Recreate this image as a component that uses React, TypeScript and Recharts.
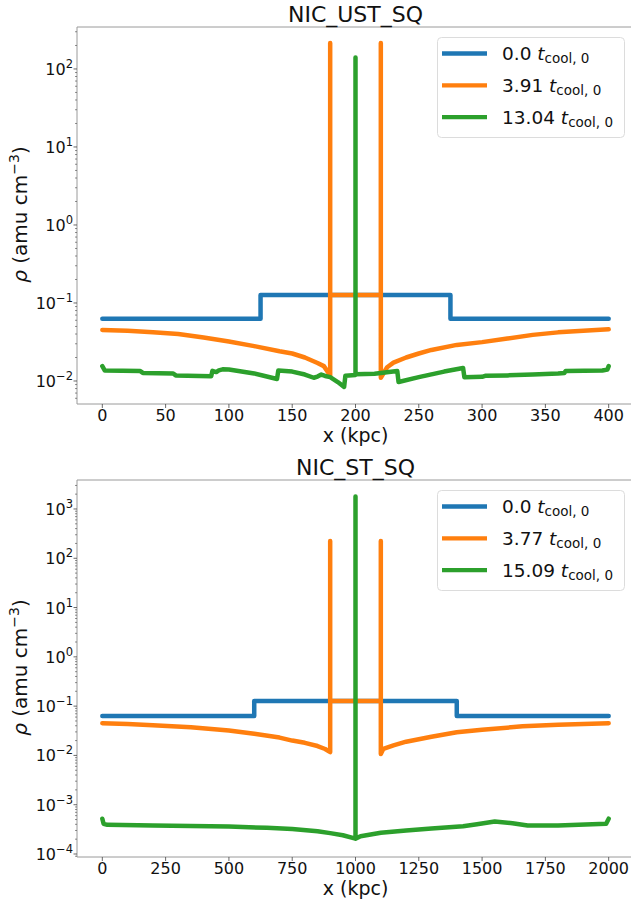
import { LineChart, Line, XAxis, YAxis, Legend, ReferenceLine } from 'recharts';

const FONT = '"DejaVu Sans", sans-serif';
const COLORS = ['#1f77b4', '#ff7f0e', '#2ca02c'];
const SPINE = '#9a9a9a';

// ---- NIC_UST_SQ (top panel) ----
const ustTimes = ['0.0', '3.91', '13.04'];
const ustX0 = [0, 125, 125, 275, 275, 400];
const ustRho0 = [0.063, 0.063, 0.127, 0.127, 0.063, 0.063];
const ustX1 = [0, 20, 40, 60, 80, 100, 120, 140, 150, 160, 170, 175, 180, 180, 180, 220, 220, 220, 225, 230, 240, 250, 260, 280, 300, 320, 340, 360, 380, 400];
const ustRho1 = [0.045, 0.044, 0.042, 0.04, 0.036, 0.032, 0.028, 0.024, 0.0225, 0.02, 0.017, 0.0155, 0.0118, 215, 0.127, 0.127, 215, 0.011, 0.015, 0.0172, 0.02, 0.0225, 0.025, 0.029, 0.0315, 0.035, 0.039, 0.042, 0.044, 0.046];
const ustX2 = [0, 2, 30, 32, 56, 58, 86, 87, 90, 92, 95, 100, 120, 138, 139, 150, 160, 167, 170, 173, 176, 180, 186, 191, 192, 200, 200, 200, 215, 233, 234, 250, 270, 285, 286, 300, 303, 320, 340, 360, 365, 366, 395, 399, 400];
const ustRho2 = [0.0155, 0.0136, 0.0134, 0.0127, 0.0125, 0.0118, 0.0115, 0.0135, 0.013, 0.0137, 0.0141, 0.014, 0.0125, 0.0106, 0.0136, 0.0132, 0.0121, 0.011, 0.0114, 0.0121, 0.0116, 0.0112, 0.0097, 0.0084, 0.0117, 0.0119, 140, 0.0122, 0.0124, 0.0134, 0.0097, 0.0112, 0.0132, 0.0147, 0.0112, 0.0113, 0.0117, 0.0118, 0.0121, 0.0125, 0.0127, 0.0134, 0.0136, 0.014, 0.0155];
const ustXTicks = [0, 50, 100, 150, 200, 250, 300, 350, 400];
const ustYTicks = [1e-2, 1e-1, 1, 10, 100];

// ---- NIC_ST_SQ (bottom panel) ----
const stTimes = ['0.0', '3.77', '15.09'];
const stX0 = [0, 600, 600, 1400, 1400, 2000];
const stRho0 = [0.063, 0.063, 0.127, 0.127, 0.063, 0.063];
const stX1 = [0, 100, 200, 350, 500, 600, 700, 750, 800, 850, 880, 900, 900, 900, 1100, 1100, 1100, 1110, 1150, 1200, 1300, 1400, 1500, 1660, 1800, 2000];
const stRho1 = [0.045, 0.0435, 0.041, 0.0374, 0.032, 0.0275, 0.023, 0.02, 0.018, 0.0155, 0.0135, 0.0117, 225, 0.127, 0.127, 225, 0.0107, 0.0136, 0.016, 0.019, 0.024, 0.0296, 0.033, 0.039, 0.042, 0.045];
const stX2 = [0, 5, 20, 200, 350, 500, 650, 750, 850, 900, 950, 1000, 1000, 1000, 1020, 1100, 1200, 1300, 1425, 1480, 1550, 1620, 1680, 1800, 1990, 2000];
const stRho2 = [0.00052, 0.00041, 0.00039, 0.00038, 0.00037, 0.00036, 0.00034, 0.00032, 0.00029, 0.000265, 0.00024, 0.000205, 1800, 0.000205, 0.00023, 0.00027, 0.0003, 0.00033, 0.000365, 0.0004, 0.000455, 0.00042, 0.00038, 0.00038, 0.00041, 0.00052];
const stXTicks = [0, 250, 500, 750, 1000, 1250, 1500, 1750, 2000];
const stYTicks = [1e-4, 1e-3, 1e-2, 1e-1, 1, 10, 100, 1000];

const zip = (xs: number[], ys: number[]) => xs.map((x, i) => ({ x, rho: ys[i] }));

// major decades plus the 2..9 minor ticks inside the domain
function logTicks(majors: number[], domain: [number, number]) {
  const out: number[] = [];
  const lo = Math.floor(Math.log10(domain[0]));
  const hi = Math.ceil(Math.log10(domain[1]));
  for (let e = lo; e <= hi; e++) {
    for (let m = 1; m <= 9; m++) {
      const v = m === 1 ? Math.pow(10, e) : m * Math.pow(10, e);
      if (v < domain[0] || v > domain[1]) continue;
      if (m === 1 && !majors.some((t) => Math.abs(Math.log10(t) - e) < 1e-9)) continue;
      out.push(v);
    }
  }
  return out;
}

function LogTick(props: any) {
  const { x, y, payload } = props;
  const lv = Math.log10(payload.value);
  const e = Math.round(lv);
  if (Math.abs(lv - e) > 1e-6) {
    return <line x1={x - 2} x2={x} y1={y} y2={y} stroke="#444" strokeWidth={0.6} />;
  }
  const exp = e < 0 ? `\u2212${-e}` : `${e}`;
  return (
    <g>
      <line x1={x - 3.5} x2={x} y1={y} y2={y} stroke="#444" strokeWidth={0.8} />
      <text x={x - 4} y={y + 6} textAnchor="end" fontSize={16} fontFamily={FONT} fill="#111">
        10
        <tspan dy={-7} fontSize={11.5}>
          {exp}
        </tspan>
      </text>
    </g>
  );
}

interface PanelProps {
  title: string;
  times: string[];
  series: { x: number; rho: number }[][];
  xDomain: [number, number];
  xTicks: number[];
  yDomain: [number, number];
  yTicks: number[];
  top: number;
  bottom: number;
}

const WIDTH = 640;
const HEIGHT = 451;
const PLOT_LEFT = 77;
const PLOT_RIGHT = 634;

function Panel({ title, times, series, xDomain, xTicks, yDomain, yTicks, top, bottom }: PanelProps) {
  const cx = (PLOT_LEFT + PLOT_RIGHT) / 2;
  const cy = (top + bottom) / 2 - 1;

  const legendContent = () => (
    <svg width={189} height={102} style={{ display: 'block' }}>
      <rect x={0.5} y={0.5} width={187} height={100} rx={4} fill="#fff" fillOpacity={0.8} stroke="#dcdcdc" />
      {times.map((t, i) => {
        const ry = 16.5 + i * 31.8;
        return (
          <g key={t}>
            <line x1={5} x2={50} y1={ry} y2={ry} stroke={COLORS[i]} strokeWidth={4.3} />
            <text x={65} y={ry + 6.5} fontSize={18.5} fontFamily={FONT} fill="#111">
              {t}{' '}
              <tspan fontStyle="italic">t</tspan>
              <tspan fontSize={13.5} dy={3}>
                cool, 0
              </tspan>
            </text>
          </g>
        );
      })}
    </svg>
  );

  return (
    <LineChart
      width={WIDTH}
      height={HEIGHT}
      margin={{ top, right: WIDTH - PLOT_RIGHT, bottom: HEIGHT - bottom - 30, left: PLOT_LEFT - 60 }}
    >
      <XAxis
        type="number"
        dataKey="x"
        domain={xDomain}
        ticks={xTicks}
        interval={0}
        allowDataOverflow
        height={30}
        tickSize={4}
        tickMargin={2}
        tick={{ fontSize: 16, fontFamily: FONT, fill: '#111' }}
        tickLine={{ stroke: '#444', strokeWidth: 0.8 }}
        axisLine={{ stroke: SPINE, strokeWidth: 1 }}
        label={() => (
          <text x={cx} y={bottom + 38} textAnchor="middle" fontSize={19} fontFamily={FONT} fill="#111">
            x (kpc)
          </text>
        )}
      />
      <YAxis
        type="number"
        scale="log"
        domain={yDomain}
        ticks={logTicks(yTicks, yDomain)}
        interval={0}
        allowDataOverflow
        width={60}
        tickSize={0}
        tickMargin={0}
        tickLine={false}
        tick={<LogTick />}
        axisLine={{ stroke: SPINE, strokeWidth: 1 }}
        label={() => (
          <text
            x={27}
            y={cy}
            transform={`rotate(-90, 27, ${cy})`}
            textAnchor="middle"
            fontSize={20}
            fontFamily={FONT}
            fill="#111"
          >
            <tspan fontStyle="italic">ρ</tspan> (amu cm
            <tspan dy={-8} fontSize={14}>
              −3
            </tspan>
            <tspan dy={8}>)</tspan>
          </text>
        )}
      />
      {/* top spine, carrying the panel title */}
      <ReferenceLine
        y={yDomain[1]}
        ifOverflow="extendDomain"
        stroke={SPINE}
        strokeWidth={1}
        label={() => (
          <text x={cx} y={top - 5} textAnchor="middle" fontSize={22} fontFamily={FONT} fill="#111">
            {title}
          </text>
        )}
      />
      {series.map((data, i) => (
        <Line
          key={times[i]}
          data={data}
          dataKey="rho"
          name={times[i]}
          type="linear"
          stroke={COLORS[i]}
          strokeWidth={4.5}
          strokeLinecap="round"
          strokeLinejoin="round"
          dot={false}
          activeDot={false}
          isAnimationActive={false}
        />
      ))}
      <Legend
        layout="vertical"
        align="center"
        verticalAlign="middle"
        content={legendContent}
        wrapperStyle={{ left: 437, top: top + 10, width: 189, height: 102 }}
      />
    </LineChart>
  );
}

export default function App() {
  return (
    <div style={{ position: 'absolute', left: 0, top: 0, width: 631, height: 902, overflow: 'hidden', background: '#fff' }}>
      <div style={{ position: 'absolute', left: 0, top: 0 }}>
        <Panel
          title="NIC_UST_SQ"
          times={ustTimes}
          series={[zip(ustX0, ustRho0), zip(ustX1, ustRho1), zip(ustX2, ustRho2)]}
          xDomain={[-20, 420]}
          xTicks={ustXTicks}
          yDomain={[0.00507, 345]}
          yTicks={ustYTicks}
          top={27}
          bottom={404}
        />
      </div>
      <div style={{ position: 'absolute', left: 0, top: 451 }}>
        <Panel
          title="NIC_ST_SQ"
          times={stTimes}
          series={[zip(stX0, stRho0), zip(stX1, stRho1), zip(stX2, stRho2)]}
          xDomain={[-100, 2100]}
          xTicks={stXTicks}
          yDomain={[8.69e-5, 3873]}
          yTicks={stYTicks}
          top={29}
          bottom={406}
        />
      </div>
    </div>
  );
}
